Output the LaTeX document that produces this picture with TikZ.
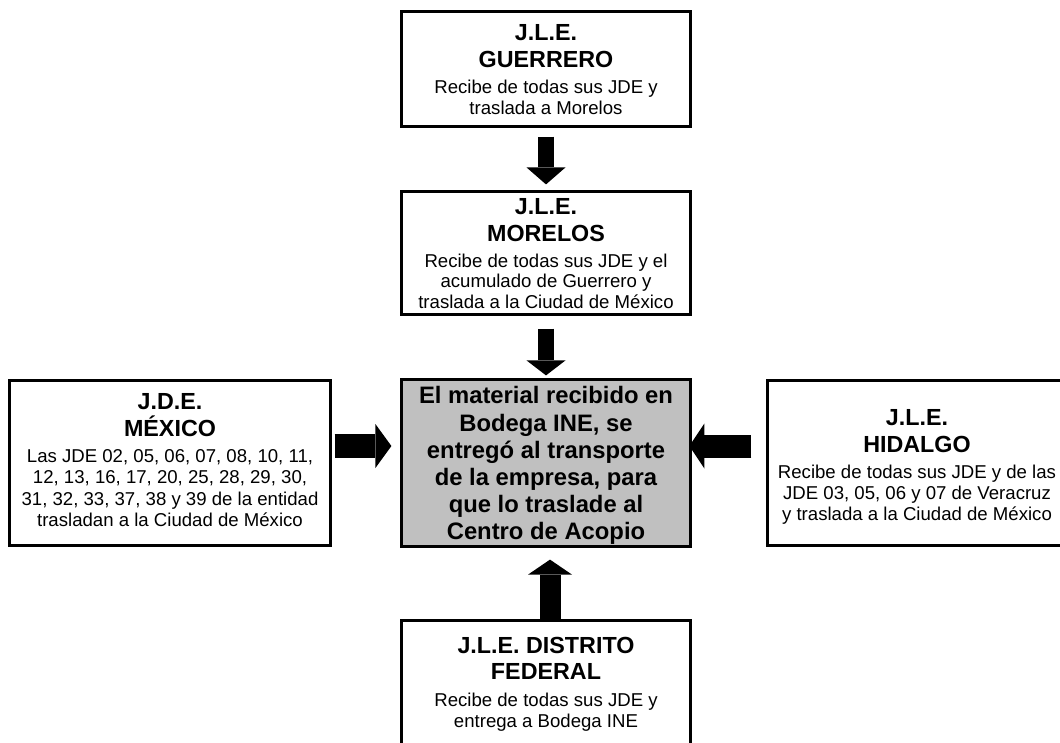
\documentclass[tikz,border=0pt]{standalone}
\usepackage{fontspec}
\setmainfont{Liberation Sans}
\usetikzlibrary{arrows.meta,calc}
\definecolor{boxgray}{RGB}{192,192,192}
\newcommand\fixspace{\spaceskip=.278em\relax\xspaceskip=.278em\relax}
\newcommand\titlefnt{\fontsize{23.3}{26.7}\selectfont\bfseries\fixspace}
\newcommand\bodyfnt{\vspace{5pt}\fontsize{18.6}{21.3}\selectfont\mdseries\fixspace}
\newcommand\centerfnt{\fontsize{23.8}{27.2}\selectfont\bfseries\fixspace}
\tikzset{
  box/.style={draw=black, line width=3.2pt, inner sep=0pt},
  txt/.style={anchor=north, inner sep=0pt, align=center},
  blockarr/.style n args={4}{draw=black, line width=#1,
    -{Triangle[width=#2, length=#3, line width=0pt]}, #4}
}
\begin{document}
\begin{tikzpicture}[x=1pt,y=-1pt]
\useasboundingbox (0,0) rectangle (1060,742);
\clip (0,0) rectangle (1060,742);
% boxes
\node[box, minimum width=288.8pt, minimum height=114.8pt] (G) at (546,69) {};
\node[box, minimum width=288.8pt, minimum height=122.8pt] (M) at (546,253) {};
\node[box, fill=boxgray, minimum width=288.8pt, minimum height=166.8pt] (C) at (546,463) {};
\node[box, minimum width=320.8pt, minimum height=164.8pt] (L) at (170,463) {};
\node[box, minimum width=298.8pt, minimum height=164.8pt] (R) at (917,463) {};
\node[box, minimum width=288.8pt, minimum height=140pt] (B) at (546,690.6) {};
% texts
\node[txt, text width=284pt] (Gt) at ($(G.north)+(0,14.4)$)
  {\titlefnt J.L.E.\\ GUERRERO\par
   \bodyfnt Recibe de todas sus JDE y\\ traslada a Morelos\par};
\node[txt, text width=284pt] (Mt) at ($(M.north)+(0,8.6)$)
  {\titlefnt J.L.E.\\ MORELOS\par
   \bodyfnt\baselineskip=20.5pt Recibe de todas sus JDE y el\\ acumulado de Guerrero y\\ traslada a la Ciudad de México\par};
\node[txt, text width=284pt] (Ct) at ($(C.north)+(0,8.4)$)
  {\centerfnt El material recibido en\\ Bodega INE, se\\ entregó al transporte\\ de la empresa, para\\ que lo traslade al\\ Centro de Acopio\par};
\node[txt, text width=316pt] (Lt) at ($(L.north)+(0,14.4)$)
  {\titlefnt J.D.E.\\ MÉXICO\par
   \bodyfnt Las JDE 02, 05, 06, 07, 08, 10, 11,\\ 12, 13, 16, 17, 20, 25, 28, 29, 30,\\ 31, 32, 33, 37, 38 y 39 de la entidad\\ trasladan a la Ciudad de México\par};
\node[txt, text width=296pt] (Rt) at ($(R.north)+(0,30.1)$)
  {\titlefnt J.L.E.\\ HIDALGO\par
   \bodyfnt Recibe de todas sus JDE y de las\\ JDE 03, 05, 06 y 07 de Veracruz\\ y traslada a la Ciudad de México\par};
\node[txt, text width=284pt] (Bt) at ($(B.north)+(0,17.7)$)
  {\titlefnt J.L.E. DISTRITO\\ FEDERAL\par
   \bodyfnt Recibe de todas sus JDE y\\ entrega a Bodega INE\par};
% arrows
\draw[blockarr={16pt}{39pt}{17pt}{shorten <=8.6pt, shorten >=5.6pt}] (G.south) -- (M.north);
\draw[blockarr={16pt}{39pt}{15pt}{shorten <=12.6pt, shorten >=2.6pt}] (M.south) -- (C.north);
\draw[blockarr={21pt}{44pt}{15pt}{shorten <=0pt, shorten >=11.6pt}] ([xshift=4pt]B.north) -- ([xshift=4pt]C.south);
\draw[blockarr={24pt}{44pt}{16pt}{shorten <=2.6pt, shorten >=8.6pt}] ([yshift=17pt]L.east) -- ([yshift=17pt]C.west);
\draw[blockarr={23pt}{45pt}{15pt}{shorten <=14.6pt, shorten >=-2.6pt}] ([yshift=17pt]R.west) -- ([yshift=17pt]C.east);
\end{tikzpicture}
\end{document}
